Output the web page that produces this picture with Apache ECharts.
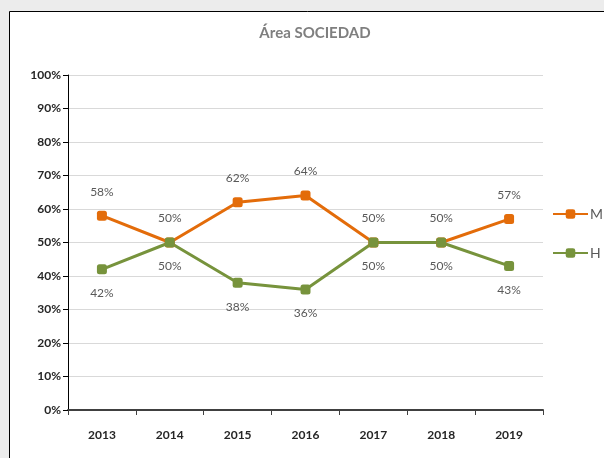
<!DOCTYPE html>
<html>
<head>
<meta charset="utf-8">
<script src="https://cdn.jsdelivr.net/npm/echarts@6/dist/echarts.min.js"></script>
<style>
  html, body { margin: 0; padding: 0; }
  body { background: #ececec; }
  #chart { width: 604px; height: 458px; }
</style>
</head>
<body>
<div id="chart"></div>
<script>
// Área SOCIEDAD - porcentaje M / H por año
const years = ['2013', '2014', '2015', '2016', '2017', '2018', '2019']
const serieM = [58, 50, 62, 64, 50, 50, 57]
const serieH = [42, 50, 38, 36, 50, 50, 43]

const fontFam = 'Lato, "Open Sans", sans-serif'

function lineSerie(name, data, color, labelPos) {
  return {
    name: name,
    type: 'line',
    data: data,
    symbol: 'roundRect',
    symbolSize: 10,
    lineStyle: { color: color, width: 3 },
    itemStyle: { color: color },
    label: {
      show: true,
      position: labelPos,
      distance: 13,
      formatter: '{c}%',
      color: '#595959',
      fontSize: 12,
      fontFamily: fontFam
    }
  }
}

const chartOptions = {
  animation: false,
  backgroundColor: 'transparent',
  graphic: [{
    type: 'rect',
    z: -10,
    shape: { x: 9.5, y: 11.5, width: 640, height: 480 },
    style: { fill: '#ffffff', stroke: '#000000', lineWidth: 1 }
  }],
  title: {
    text: 'Área SOCIEDAD',
    left: 310,
    top: 21,
    textAlign: 'center',
    textStyle: { color: '#7f7f7f', fontSize: 15, fontWeight: 'bold', fontFamily: fontFam }
  },
  legend: {
    orient: 'vertical',
    left: 552,
    top: 207,
    padding: 0,
    itemGap: 25,
    itemWidth: 35,
    itemHeight: 12,
    data: ['M', 'H'],
    textStyle: { color: '#595959', fontSize: 14, fontFamily: fontFam, padding: [0, 0, 0, -3] }
  },
  grid: { left: 68, right: 61, top: 75, bottom: 48 },
  xAxis: {
    type: 'category',
    data: years,
    boundaryGap: true,
    axisLine: { lineStyle: { color: '#404040', width: 2 } },
    axisTick: { show: true, length: 5, lineStyle: { color: '#404040' } },
    axisLabel: { color: '#262626', fontSize: 12, fontWeight: 'bold', fontFamily: fontFam, margin: 19 }
  },
  yAxis: {
    type: 'value',
    min: 0,
    max: 100,
    interval: 10,
    axisLine: { show: true, lineStyle: { color: '#000000', width: 1 } },
    axisTick: { show: true, length: 5, lineStyle: { color: '#000000' } },
    axisLabel: { formatter: '{value}%', color: '#262626', fontSize: 12, fontWeight: 'bold', fontFamily: fontFam, margin: 7 },
    splitLine: { lineStyle: { color: '#d9d9d9' } }
  },
  series: [
    lineSerie('M', serieM, '#e36c0a', 'top'),
    lineSerie('H', serieH, '#77933c', 'bottom')
  ]
}

let elm = document.getElementById('chart')
let myChart = echarts.init(elm)
myChart.setOption(chartOptions)
</script>
</body>
</html>
